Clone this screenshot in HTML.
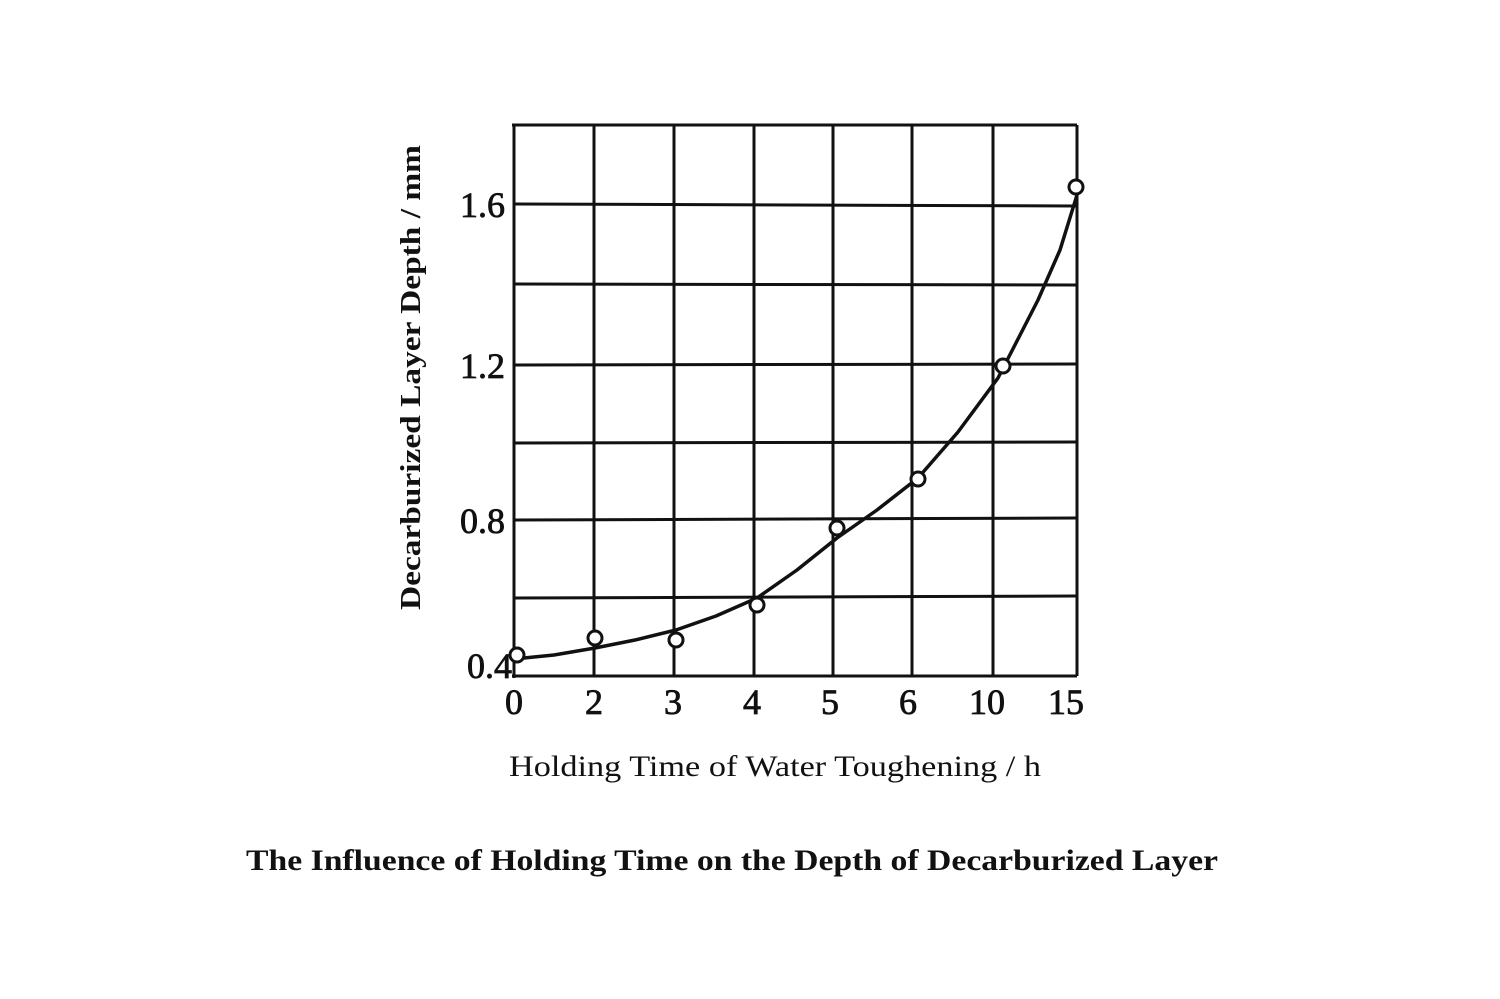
<!DOCTYPE html>
<html><head><meta charset="utf-8"><style>
html,body{margin:0;padding:0;background:#fff;}
svg{display:block;}
</style></head><body>
<svg width="1500" height="999" viewBox="0 0 1500 999" xmlns="http://www.w3.org/2000/svg">
<rect width="1500" height="999" fill="#fff"/>
<g stroke="#111" stroke-width="3" fill="none">
<line x1="514" y1="125" x2="514" y2="678"/>
<line x1="594" y1="125" x2="594" y2="676"/>
<line x1="674" y1="125" x2="674" y2="676"/>
<line x1="754" y1="125" x2="754" y2="676"/>
<line x1="833" y1="125" x2="833" y2="676"/>
<line x1="912" y1="125" x2="912" y2="676"/>
<line x1="993" y1="125" x2="993" y2="676"/>
<line x1="1077" y1="125" x2="1077" y2="676"/>
<line x1="512" y1="125" x2="1077" y2="125"/>
<line x1="514" y1="204" x2="1077" y2="206"/>
<line x1="514" y1="284" x2="1077" y2="285"/>
<line x1="514" y1="365" x2="1077" y2="364"/>
<line x1="514" y1="443" x2="1077" y2="442"/>
<line x1="514" y1="520" x2="1077" y2="518"/>
<line x1="514" y1="598" x2="1077" y2="596"/>
<line x1="512" y1="676" x2="1077" y2="676"/>
<polyline stroke-width="3.5" stroke-linejoin="round" points="514,659 554,655 595,648 635,640 676,630 716,616 757,598 797,570 837,538 877,510 918,478 958,432 998,378 1038,300 1060,250 1077,195"/>
</g>
<g stroke="#111" stroke-width="3" fill="#fff">
<circle cx="517" cy="655" r="7"/>
<circle cx="595" cy="638" r="7"/>
<circle cx="676" cy="640" r="7"/>
<circle cx="757" cy="605" r="7"/>
<circle cx="837" cy="528" r="7"/>
<circle cx="918" cy="479" r="7"/>
<circle cx="1003" cy="366" r="7"/>
<circle cx="1076" cy="187" r="7"/>
</g>
<g font-family="Liberation Serif, serif" font-size="36" fill="#111" stroke="#111" stroke-width="0.8">
<text x="505" y="217" text-anchor="end">1.6</text>
<text x="505" y="378" text-anchor="end">1.2</text>
<text x="505" y="533" text-anchor="end">0.8</text>
<text x="512" y="678" text-anchor="end">0.4</text>
<text x="514" y="714" text-anchor="middle">0</text>
<text x="594" y="714" text-anchor="middle">2</text>
<text x="673" y="714" text-anchor="middle">3</text>
<text x="752" y="714" text-anchor="middle">4</text>
<text x="830" y="714" text-anchor="middle">5</text>
<text x="908" y="714" text-anchor="middle">6</text>
<text x="987" y="714" text-anchor="middle">10</text>
<text x="1066" y="714" text-anchor="middle">15</text>
</g>
<text x="509" y="776" textLength="532" lengthAdjust="spacingAndGlyphs" font-family="Liberation Serif, serif" font-size="30" fill="#111">Holding Time of Water Toughening / h</text>
<text transform="translate(420,610) rotate(-90)" textLength="465" lengthAdjust="spacingAndGlyphs" font-family="Liberation Serif, serif" font-weight="bold" font-size="29" fill="#111">Decarburized Layer Depth / mm</text>
<text x="246" y="870" textLength="972" lengthAdjust="spacingAndGlyphs" font-family="Liberation Serif, serif" font-weight="bold" font-size="30" fill="#111">The Influence of Holding Time on the Depth of Decarburized Layer</text>
</svg>
</body></html>
